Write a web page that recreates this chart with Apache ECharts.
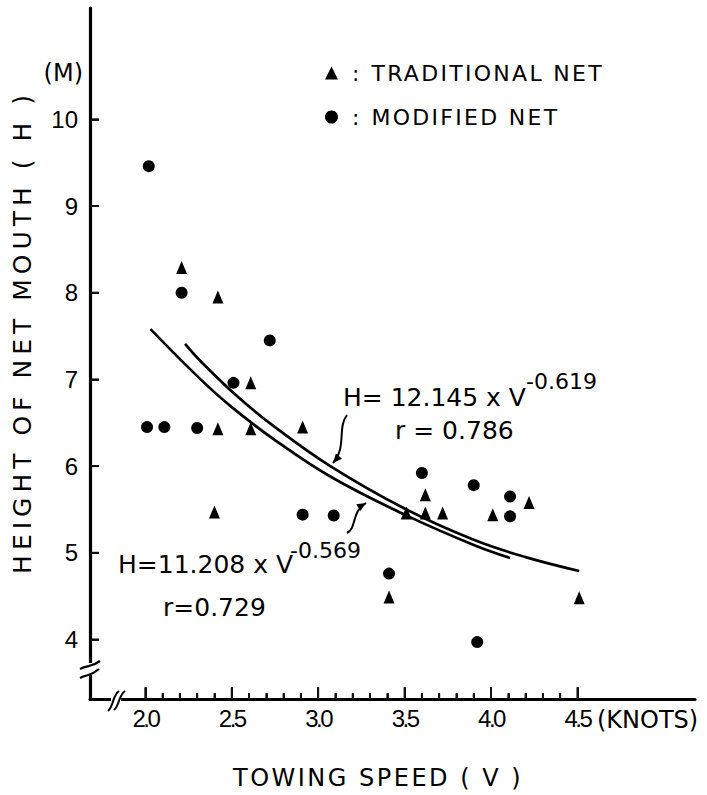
<!DOCTYPE html>
<html>
<head>
<meta charset="utf-8">
<script src="https://cdn.jsdelivr.net/npm/echarts@6/dist/echarts.min.js"></script>
<style>
html,body{margin:0;padding:0;background:#fff;}
#chart{width:707px;height:795px;}
</style>
</head>
<body>
<div id="chart"></div>
<script>
// ---- data ----
const traditionalSpeed  = [2.21, 2.42, 2.61, 2.42, 2.61, 2.91, 2.40, 3.51, 3.62, 3.62, 3.72, 4.01, 4.22, 3.41, 4.51];
const traditionalHeight = [8.29, 7.95, 6.96, 6.43, 6.43, 6.45, 5.47, 5.46, 5.67, 5.46, 5.46, 5.44, 5.58, 4.49, 4.48];
const modifiedSpeed  = [2.02, 2.21, 2.72, 2.51, 2.01, 2.11, 2.30, 2.91, 3.09, 3.41, 3.60, 3.90, 4.11, 4.11, 3.92];
const modifiedHeight = [9.46, 8.00, 7.45, 6.96, 6.45, 6.45, 6.44, 5.44, 5.43, 4.76, 5.92, 5.78, 5.65, 5.42, 3.97];

// fitted curves
const fitASpeed  = [2.03, 2.32, 2.50, 2.75, 3.07, 3.50, 3.90, 4.11];
const fitAHeight = [7.58, 7.00, 6.68, 6.30, 5.88, 5.44, 5.09, 4.94];
const fitBSpeed  = [2.23, 2.32, 2.54, 2.75, 3.07, 3.50, 3.90, 4.20, 4.51];
const fitBHeight = [7.41, 7.21, 6.79, 6.45, 6.00, 5.51, 5.15, 4.95, 4.79];

const xMajorTicks = [2.0, 2.5, 3.0, 3.5, 4.0, 4.5];
const xMinorTicks = [2.1, 2.2, 2.3, 2.4, 2.6, 2.7, 2.8, 2.9, 3.1, 3.2, 3.3, 3.4, 3.6, 3.7, 3.8, 3.9, 4.1, 4.2, 4.3, 4.4];
const yTicks = [4, 5, 6, 7, 8, 9, 10];

const legendNames = ['TRADITIONAL NET', 'MODIFIED NET'];
const fitALabel = 'H=11.208 x V';
const fitAExp = '-0.569';
const fitAR = 'r=0.729';
const fitBLabel = 'H= 12.145 x V';
const fitBExp = '-0.619';
const fitBR = 'r = 0.786';
const xTitle = 'TOWING SPEED ( V )';
const yTitle = 'HEIGHT OF NET MOUTH ( H )';

// ---- build ----
const X_MIN = 1.68, X_MAX = 5.18, Y_MIN = 3.31, Y_MAX = 11.284;
const G = {left: 90, top: 8, width: 605, height: 691.3};
const pxX = G.width / (X_MAX - X_MIN), pxY = G.height / (Y_MAX - Y_MIN);
const xT0 = xMajorTicks[0], xT1 = xMajorTicks[xMajorTicks.length - 1];
const yT0 = yTicks[0], yT1 = yTicks[yTicks.length - 1];
const zip = (a, b) => a.map((v, i) => [v, b[i]]);
const FONT = 'DejaVu Sans';
const black = '#000';
const tickColor = '#111111';

function arrowHead(tip, from, len, halfW) {
  const dx = tip[0] - from[0], dy = tip[1] - from[1];
  const d = Math.hypot(dx, dy); const ux = dx / d, uy = dy / d;
  const bx = tip[0] - ux * len, by = tip[1] - uy * len;
  return [[tip[0], tip[1]], [bx - uy * halfW, by + ux * halfW], [bx + uy * halfW, by - ux * halfW]];
}

const chart = echarts.init(document.getElementById('chart'), null, {renderer: 'svg'});

const textEl = (text, x, y, size, opts = {}) => Object.assign({
  type: 'text', x, y, silent: true,
  style: Object.assign({text, font: size + 'px "' + (opts.family || FONT) + '"', fill: black,
    align: opts.align || 'left', verticalAlign: 'middle'}, opts.style || {})
}, opts.extra || {});

const a1 = {start: [347, 415], c1: [337, 428], c2: [347, 447], end: [333, 463]};
const a2 = {start: [347, 533], c1: [357, 528], c2: [351, 512], end: [366, 503]};

const graphics = [
  // y-axis break
  {type: 'rect', shape: {x: 84, y: 663, width: 12, height: 12}, style: {fill: '#fff'}, silent: true, z: 10},
  {type: 'bezierCurve', shape: {x1: 80, y1: 669, cpx1: 88, cpy1: 665, cpx2: 92, cpy2: 667, x2: 100, y2: 661}, style: {stroke: black, lineWidth: 2.2, fill: null}, silent: true, z: 11},
  {type: 'bezierCurve', shape: {x1: 80, y1: 678, cpx1: 88, cpy1: 674, cpx2: 91, cpy2: 676, x2: 99, y2: 669}, style: {stroke: black, lineWidth: 2.2, fill: null}, silent: true, z: 11},
  // x-axis break
  {type: 'rect', shape: {x: 111, y: 695, width: 10, height: 9}, style: {fill: '#fff'}, silent: true, z: 10},
  {type: 'bezierCurve', shape: {x1: 108, y1: 711, cpx1: 114, cpy1: 706, cpx2: 112, cpy2: 696, x2: 119, y2: 691}, style: {stroke: black, lineWidth: 2, fill: null}, silent: true, z: 11},
  {type: 'bezierCurve', shape: {x1: 114, y1: 710, cpx1: 120, cpy1: 705, cpx2: 118, cpy2: 696, x2: 125, y2: 691}, style: {stroke: black, lineWidth: 2, fill: null}, silent: true, z: 11},
  // arrows
  {type: 'bezierCurve', shape: {x1: a1.start[0], y1: a1.start[1], cpx1: a1.c1[0], cpy1: a1.c1[1], cpx2: a1.c2[0], cpy2: a1.c2[1], x2: a1.end[0], y2: a1.end[1]}, style: {stroke: black, lineWidth: 2, fill: null}, silent: true},
  {type: 'polygon', shape: {points: arrowHead(a1.end, a1.c2, 9, 4)}, style: {fill: black}, silent: true},
  {type: 'bezierCurve', shape: {x1: a2.start[0], y1: a2.start[1], cpx1: a2.c1[0], cpy1: a2.c1[1], cpx2: a2.c2[0], cpy2: a2.c2[1], x2: a2.end[0], y2: a2.end[1]}, style: {stroke: black, lineWidth: 2, fill: null}, silent: true},
  {type: 'polygon', shape: {points: arrowHead(a2.end, a2.c2, 9, 4)}, style: {fill: black}, silent: true},
  // annotations
  textEl(fitBLabel, 343, 397.5, 25),
  textEl(fitBExp, 526, 381.5, 22),
  textEl(fitBR, 395, 430, 25),
  textEl(fitALabel, 118, 564.5, 25),
  textEl(fitAExp, 290, 550.5, 22),
  textEl(fitAR, 163, 607.5, 25),
  // axis names and units
  textEl('(M)', 83, 73, 24, {align: 'right'}),
  textEl('(KNOTS)', 597, 720, 24),
  textEl(xTitle, 233, 778, 24),
  textEl(yTitle, 22, 332, 25, {align: 'center', extra: {rotation: Math.PI / 2}})
];

const hiddenAxis = (gridIndex) => ({type: 'value', gridIndex, min: 0, max: 1, show: false});

const option = {
  backgroundColor: '#fff',
  animation: false,
  grid: [
    Object.assign({outerBoundsMode: 'none'}, G),
    // tick grid for the x-axis tick run (2.0 .. 4.5)
    {outerBoundsMode: 'none', left: G.left + (xT0 - X_MIN) * pxX, width: (xT1 - xT0) * pxX, top: G.top, height: G.height},
    // tick grid for the y-axis tick run (4 .. 10)
    {outerBoundsMode: 'none', left: G.left, width: G.width, top: G.top + (Y_MAX - yT1) * pxY, height: (yT1 - yT0) * pxY}
  ],
  legend: {
    data: legendNames,
    orient: 'vertical',
    left: 320, top: 57,
    itemWidth: 13, itemHeight: 13,
    itemGap: 22,
    selectedMode: false,
    formatter: name => '{c|:}{t|' + name + '}',
    textStyle: {
      color: black,
      rich: {
        c: {fontFamily: FONT, fontSize: 22, lineHeight: 26, padding: [0, 12, 0, 9], color: black},
        t: {fontFamily: FONT, fontSize: 22, lineHeight: 26, color: black}
      }
    }
  },
  xAxis: [
    {
      type: 'value', gridIndex: 0, min: X_MIN, max: X_MAX,
      axisLine: {show: true, onZero: false, lineStyle: {color: black, width: 3.2}},
      splitLine: {show: false},
      axisTick: {show: false},
      axisLabel: {customValues: xMajorTicks, formatter: v => v.toFixed(1), margin: 7, color: black,
        fontFamily: 'Liberation Sans', fontSize: 24}
    },
    {
      type: 'value', gridIndex: 1, min: xT0, max: xT1, interval: 0.5, position: 'bottom',
      axisLine: {show: false, onZero: false},
      splitLine: {show: false}, minorSplitLine: {show: false},
      axisLabel: {show: false},
      axisTick: {show: true, inside: true, length: 12, lineStyle: {color: tickColor, width: 2}},
      minorTick: {show: true, splitNumber: 5, length: 6, lineStyle: {color: tickColor, width: 2}}
    },
    hiddenAxis(2)
  ],
  yAxis: [
    {
      type: 'value', gridIndex: 0, min: Y_MIN, max: Y_MAX,
      axisLine: {show: true, onZero: false, lineStyle: {color: black, width: 3.2}},
      splitLine: {show: false},
      axisTick: {show: false},
      axisLabel: {customValues: yTicks, margin: 12, color: black, fontFamily: 'Liberation Sans', fontSize: 24}
    },
    hiddenAxis(1),
    {
      type: 'value', gridIndex: 2, min: yT0, max: yT1, interval: 1, position: 'left',
      axisLine: {show: false, onZero: false},
      splitLine: {show: false},
      axisLabel: {show: false},
      axisTick: {show: true, inside: true, length: 9, lineStyle: {color: tickColor, width: 2}}
    }
  ],
  series: [
    {name: 'TRADITIONAL NET', type: 'scatter', symbol: 'triangle', symbolSize: [11, 13],
      itemStyle: {color: black, opacity: 1}, data: zip(traditionalSpeed, traditionalHeight), z: 5},
    {name: 'MODIFIED NET', type: 'scatter', symbol: 'circle', symbolSize: 12,
      itemStyle: {color: black, opacity: 1}, data: zip(modifiedSpeed, modifiedHeight), z: 5},
    {name: 'fitA', type: 'line', smooth: 0.4, showSymbol: false, symbol: 'none',
      lineStyle: {color: black, width: 2.7}, data: zip(fitASpeed, fitAHeight), z: 3},
    {name: 'fitB', type: 'line', smooth: 0.4, showSymbol: false, symbol: 'none',
      lineStyle: {color: black, width: 2.7}, data: zip(fitBSpeed, fitBHeight), z: 3}
  ]
};
chart.setOption(option);

// inside tick marks again, placed through the chart's own axis scales
const tickEls = [];
const toPx = (x, y) => chart.convertToPixel({gridIndex: 0}, [x, y]);
const vTick = (p, len) => ({type: 'polygon',
  shape: {points: [[p[0] - 1, p[1]], [p[0] + 1, p[1]], [p[0] + 1, p[1] - len], [p[0] - 1, p[1] - len]]},
  style: {fill: tickColor}});
try {
  xMajorTicks.forEach(v => tickEls.push(vTick(toPx(v, Y_MIN), 12)));
  xMinorTicks.forEach(v => tickEls.push(vTick(toPx(v, Y_MIN), 6)));
  yTicks.forEach(v => { const p = toPx(X_MIN, v);
    tickEls.push({type: 'line', shape: {x1: p[0], y1: p[1], x2: p[0] + 9, y2: p[1]}, style: {stroke: tickColor, lineWidth: 2}}); });
} catch (e) { tickEls.length = 0; }

chart.setOption({graphic: {elements: graphics.concat(tickEls)}});

// letter spacing like the typewritten original
const spacing = {};
spacing[yTitle] = 5; spacing[xTitle] = 2.5;
legendNames.forEach(n => spacing[n] = 2.3);
function applySpacing() {
  chart.getDom().querySelectorAll('text').forEach(t => {
    const s = t.textContent;
    if (spacing[s] !== undefined) t.setAttribute('letter-spacing', spacing[s]);
    else if (/^\d\.\d$/.test(s)) t.setAttribute('letter-spacing', -2.5);
  });
}
chart.on('finished', applySpacing);
applySpacing();
setTimeout(applySpacing, 50);
</script>
</body>
</html>
